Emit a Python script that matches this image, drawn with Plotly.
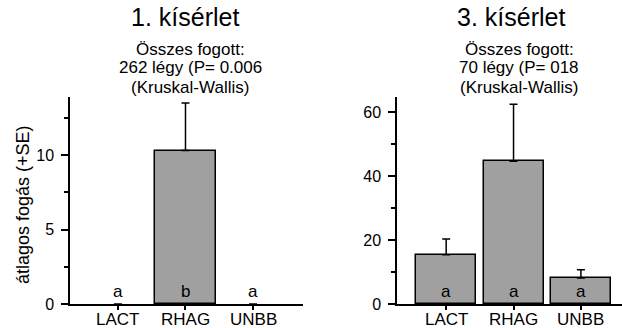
import plotly.graph_objects as go

categories = ["LACT", "RHAG", "UNBB"]

exp1_means = [0, 10.3, 0]
exp1_se = [0, 3.2, 0]
exp1_letters = ["a", "b", "a"]

exp3_means = [15.4, 44.6, 8.1]
exp3_se = [4.9, 17.8, 2.6]
exp3_letters = ["a", "a", "a"]

exp1_title = "1. kísérlet"
exp3_title = "3. kísérlet"
exp1_sub = ["Összes fogott:", "262 légy (P= 0.006", "(Kruskal-Wallis)"]
exp3_sub = ["Összes fogott:", "70 légy (P= 018", "(Kruskal-Wallis)"]
y_title = "átlagos fogás (+SE)"

W, H = 622, 328
FONT = "Liberation Sans, Arial, Helvetica, sans-serif"
BAR_COLOR = "#a0a0a0"

def py(px):
    return 1 - px / H

fig = go.Figure()

for means, se, xa, ya in [(exp1_means, exp1_se, "x", "y"), (exp3_means, exp3_se, "x2", "y2")]:
    up = [s if s > 0 else None for s in se]
    down = [0 if s > 0 else None for s in se]
    fig.add_trace(go.Bar(
        x=categories, y=means, xaxis=xa, yaxis=ya, width=0.89,
        marker=dict(color=BAR_COLOR,
                    line=dict(color="black", width=[1.5 if m > 0 else 0 for m in means])),
        error_y=dict(type="data", symmetric=False, array=up, arrayminus=down,
                     color="black", thickness=1.5, width=4),
        showlegend=False, hoverinfo="skip",
    ))

ydom = [py(304), py(97)]
line_common = dict(showline=True, linecolor="black", linewidth=1.5, showgrid=False,
                   zeroline=False, ticks="outside", tickcolor="black", tickwidth=1.5,
                   automargin=False)
yfont = dict(family=FONT, size=16, color="black")

fig.update_layout(
    width=W, height=H, margin=dict(l=0, r=0, t=0, b=0, autoexpand=False),
    paper_bgcolor="white", plot_bgcolor="white", bargap=0,
    font=dict(family=FONT, color="black"),
    xaxis=dict(domain=[70 / W, 303 / W], range=[-0.71, 2.74], anchor="y",
               ticklen=4, showticklabels=False, **line_common),
    yaxis=dict(domain=ydom, range=[0, 13.9], anchor="x", tickvals=[0, 5, 10],
               ticklen=7, ticklabelstandoff=4, tickfont=yfont,
               minor=dict(tickvals=[2.5, 7.5, 12.5], ticklen=4, ticks="outside",
                          tickcolor="black", tickwidth=1.5),
               **line_common),
    xaxis2=dict(domain=[397 / W, 1.0], range=[-0.73, 2.61], anchor="y2",
                ticklen=4, showticklabels=False, **line_common),
    yaxis2=dict(domain=ydom, range=[0, 64.7], anchor="x2", tickvals=[0, 20, 40, 60],
                ticklen=7, ticklabelstandoff=4, tickfont=yfont,
                minor=dict(tickvals=[10, 30, 50], ticklen=4, ticks="outside",
                           tickcolor="black", tickwidth=1.5),
                **line_common),
)

ann = []
ann.append(dict(text=exp1_title, x=185 / W, y=py(17), xref="paper", yref="paper",
                showarrow=False, xanchor="center", yanchor="middle",
                font=dict(family=FONT, size=25, color="black")))
ann.append(dict(text=exp3_title, x=511 / W, y=py(17), xref="paper", yref="paper",
                showarrow=False, xanchor="center", yanchor="middle",
                font=dict(family=FONT, size=25, color="black")))
for lines, cx in [(exp1_sub, 190), (exp3_sub, 519)]:
    for i, line in enumerate(lines):
        ann.append(dict(text=line, x=cx / W, y=py(49 + 19 * i), xref="paper", yref="paper",
                        showarrow=False, xanchor="center", yanchor="middle",
                        font=dict(family=FONT, size=17, color="black")))
for letters, xr in [(exp1_letters, "x"), (exp3_letters, "x2")]:
    for c, l in zip(categories, letters):
        ann.append(dict(text=l, x=c, y=py(291), xref=xr, yref="paper",
                        showarrow=False, xanchor="center", yanchor="middle",
                        font=dict(family=FONT, size=17, color="black")))
        ann.append(dict(text=c, x=c, y=py(319), xref=xr, yref="paper",
                        showarrow=False, xanchor="center", yanchor="middle",
                        font=dict(family=FONT, size=17, color="black")))
ann.append(dict(text=y_title, x=23 / W, y=py(205), xref="paper", yref="paper",
                showarrow=False, textangle=-90, xanchor="center", yanchor="middle",
                font=dict(family=FONT, size=18, color="black")))
fig.update_layout(annotations=ann)

fig.write_html("out.html", config={"displayModeBar": False},
               post_script="document.body.style.margin='0';document.body.style.padding='0';")
